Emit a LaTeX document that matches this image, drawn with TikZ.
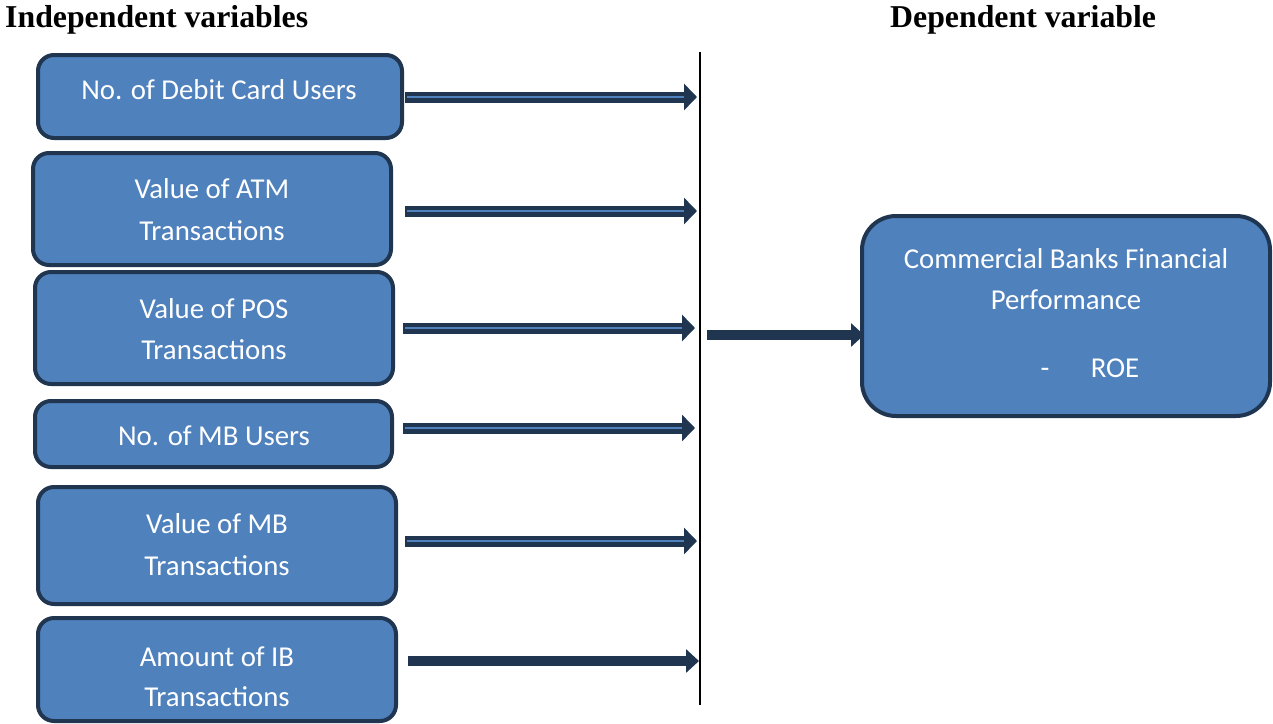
\documentclass[tikz,border=0pt]{standalone}
\usepackage{fontspec}
\setmainfont{Carlito}
\newfontfamily\titlefont{Liberation Serif}
\usetikzlibrary{arrows.meta}
\definecolor{boxfill}{HTML}{4F81BD}
\definecolor{boxdraw}{HTML}{1F3550}
\definecolor{arrdark}{HTML}{1F3550}
\definecolor{arrlight}{HTML}{4F81BD}
\tikzset{
  vbox/.style={draw=boxdraw, line width=4pt, fill=boxfill, rounded corners=16pt},
  vtext/.style={text=white, font=\fontsize{28.8}{34}\selectfont, inner sep=0pt, anchor=base},
  ttl/.style={font=\titlefont\bfseries\fontsize{31.8}{36}\selectfont, inner sep=0pt, anchor=base west},
  dbl/.style={draw=arrdark, line width=11pt, -{Triangle[length=13pt,width=26pt]}},
  dblin/.style={draw=arrlight, line width=2.5pt},
  sgl/.style={draw=arrdark, line width=10pt, -{Triangle[length=13pt,width=23pt]}}
}
\begin{document}
\begin{tikzpicture}[x=1pt,y=-1pt]
\useasboundingbox (0,0) rectangle (1273,723);
% titles
\node[ttl] (t1) at (5,27) {Independent variables};
\node[ttl] (t2) at (890,27) {Dependent variable};
% boxes
\draw[vbox] (38,55) rectangle (402,138);
\node[vtext] (x1) at (219,99) {No. of Debit Card Users};
\draw[vbox] (33,153) rectangle (391,265);
\node[vtext] (x2) at (212,198) {Value of ATM};
\node[vtext] (x2b) at (212,240) {Transactions};
\draw[vbox] (35,272) rectangle (393,384);
\node[vtext] (x3) at (214,318) {Value of POS};
\node[vtext] (x3b) at (214,359) {Transactions};
\draw[vbox] (35,401) rectangle (392,467);
\node[vtext] (x4) at (214,445) {No. of MB Users};
\draw[vbox] (38,487) rectangle (396,604);
\node[vtext] (x5) at (217,533) {Value of MB};
\node[vtext] (x5b) at (217,575) {Transactions};
\draw[vbox] (38,618) rectangle (396,721);
\node[vtext] (x6) at (217,666) {Amount of IB};
\node[vtext] (x6b) at (217,706) {Transactions};
\draw[vbox, rounded corners=34pt] (862,216) rectangle (1270,416);
\node[vtext] (y1) at (1066,268) {Commercial Banks Financial};
\node[vtext] (y1b) at (1066,309) {Performance};
\node[vtext] (y1c) at (1045,377) {-};
\node[vtext] (y1d) at (1115,377) {ROE};
% vertical line
\coordinate (vt) at (700,52);
\coordinate (vb) at (700,705);
\draw[line width=1.5pt] (vt) -- (vb);
% arrows
\foreach \n/\xa/\xb/\yy in {1/405/697/97, 2/405/697/211, 3/403/695/328, 4/403/695/428, 5/405/697/541}{
  \coordinate (s\n) at (\xa,\yy);
  \coordinate (e\n) at (\xb,\yy);
  \coordinate (m\n) at (\xb-13,\yy);
  \draw[dbl] (s\n) -- (e\n);
  \draw[dblin] ([xshift=2pt]s\n) -- (m\n);
}
\coordinate (s6) at (408,661);
\coordinate (e6) at (699,661);
\draw[sgl] (s6) -- (e6);
\coordinate (s7) at (707,335);
\coordinate (e7) at (864,335);
\draw[sgl] (s7) -- (e7);
\end{tikzpicture}
\end{document}
